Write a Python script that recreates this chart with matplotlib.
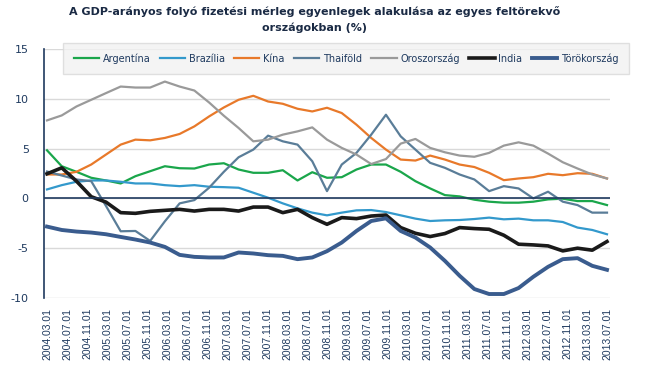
import numpy as np
import matplotlib
matplotlib.use('Agg')
import matplotlib.pyplot as plt

# quarterly data, 2004 Q1 .. 2013 Q3 (39 points)
tick_labels = ['2004.03.01', '2004.07.01', '2004.11.01', '2005.03.01', '2005.07.01', '2005.11.01',
               '2006.03.01', '2006.07.01', '2006.11.01', '2007.03.01', '2007.07.01', '2007.11.01',
               '2008.03.01', '2008.07.01', '2008.11.01', '2009.03.01', '2009.07.01', '2009.11.01',
               '2010.03.01', '2010.07.01', '2010.11.01', '2011.03.01', '2011.07.01', '2011.11.01',
               '2012.03.01', '2012.07.01', '2012.11.01', '2013.03.01', '2013.07.01']

argentina = [4.83, 3.23, 2.67, 2.07, 1.8, 1.5, 2.23, 2.73, 3.23, 3.03,
             3.0, 3.4, 3.53, 2.9, 2.57, 2.57, 2.83, 1.8, 2.63, 2.07,
             2.13, 2.9, 3.4, 3.4, 2.67, 1.73, 1.0, 0.33, 0.2, -0.13,
             -0.33, -0.43, -0.43, -0.33, -0.1, -0.03, -0.27, -0.27, -0.67]
brazilia = [0.9, 1.33, 1.67, 1.8, 1.8, 1.67, 1.5, 1.5, 1.33, 1.23,
            1.33, 1.17, 1.13, 1.07, 0.57, 0.07, -0.5, -1.0, -1.43, -1.7,
            -1.43, -1.2, -1.17, -1.37, -1.7, -2.03, -2.27, -2.2, -2.17, -2.07,
            -1.93, -2.1, -2.03, -2.2, -2.2, -2.37, -2.93, -3.17, -3.6]
kina = [2.4, 2.4, 2.67, 3.4, 4.4, 5.4, 5.9, 5.83, 6.07, 6.47,
        7.23, 8.23, 9.13, 9.9, 10.3, 9.73, 9.5, 9.0, 8.73, 9.1,
        8.57, 7.4, 6.07, 4.9, 3.9, 3.8, 4.3, 3.9, 3.4, 3.15,
        2.57, 1.83, 2.0, 2.13, 2.47, 2.33, 2.53, 2.47, 2.0]
thaifold = [2.7, 2.3, 1.9, 1.73, -0.75, -3.3, -3.27, -4.27, -2.3, -0.5,
            -0.17, 1.07, 2.67, 4.13, 4.9, 6.3, 5.73, 5.4, 3.73, 0.73,
            3.4, 4.57, 6.4, 8.4, 6.23, 4.9, 3.57, 3.07, 2.4, 1.9,
            0.73, 1.23, 1.0, 0.0, 0.67, -0.33, -0.67, -1.43, -1.43]
oroszorszag = [7.83, 8.33, 9.23, 9.9, 10.57, 11.23, 11.13, 11.13, 11.73, 11.23,
               10.83, 9.63, 8.3, 7.07, 5.73, 5.9, 6.4, 6.73, 7.13, 5.9,
               5.07, 4.4, 3.45, 3.95, 5.5, 5.97, 5.07, 4.63, 4.3, 4.18,
               4.57, 5.3, 5.63, 5.3, 4.5, 3.63, 3.0, 2.4, 2.0]
india = [2.47, 3.07, 1.73, 0.17, -0.37, -1.43, -1.5, -1.3, -1.2, -1.1,
         -1.27, -1.1, -1.1, -1.27, -0.87, -0.87, -1.43, -1.1, -1.93, -2.6,
         -1.93, -2.03, -1.77, -1.67, -2.93, -3.5, -3.83, -3.53, -2.93, -3.03,
         -3.1, -3.7, -4.6, -4.67, -4.77, -5.27, -5.0, -5.2, -4.33]
torokorszag = [-2.83, -3.17, -3.33, -3.43, -3.6, -3.87, -4.13, -4.43, -4.87, -5.67,
               -5.87, -5.93, -5.93, -5.43, -5.53, -5.7, -5.77, -6.1, -5.93, -5.3,
               -4.43, -3.27, -2.27, -2.0, -3.27, -3.93, -4.93, -6.27, -7.77, -9.1,
               -9.6, -9.6, -9.0, -7.87, -6.87, -6.1, -6.0, -6.77, -7.17]

series = [
    ('Argentína', argentina, '#1aa64b', 1.6),
    ('Brazília', brazilia, '#3399cc', 1.6),
    ('Kína', kina, '#e8792a', 1.6),
    ('Thaiföld', thaifold, '#5a7d98', 1.6),
    ('Oroszország', oroszorszag, '#9a9a9a', 1.6),
    ('India', india, '#1a1a1a', 2.6),
    ('Törökország', torokorszag, '#3a5c8e', 2.8),
]

navy = '#1f3a5f'
plt.rcParams['axes.unicode_minus'] = False

fig = plt.figure(figsize=(6.45, 3.71), dpi=100)
ax = fig.add_axes([44 / 645, 1 - 298 / 371, 566 / 645, 249 / 371])

# x in months since 2004.03; labels every 4 months
n = len(argentina)
x = np.linspace(0, 112, n)
ticks = np.arange(len(tick_labels)) * 4

for name, vals, color, lw in series:
    ax.plot(x, vals, color=color, lw=lw, label=name, solid_joinstyle='round')

ax.set_xlim(-0.6, 112.6)
ax.set_ylim(-10, 15)
ax.set_yticks([-10, -5, 0, 5, 10, 15])
ax.set_yticklabels(['-10', '-5', '0', '5', '10', '15'])
ax.grid(axis='y', color='#d9d9d9', lw=1)
ax.axhline(0, color=navy, lw=1.2)
ax.set_axisbelow(True)
for s in ['top', 'right', 'bottom']:
    ax.spines[s].set_visible(False)
ax.spines['left'].set_color(navy)
ax.spines['left'].set_linewidth(1.2)
ax.tick_params(axis='y', length=0, pad=11, labelsize=8, labelcolor=navy)
ax.set_xticks(ticks)
ax.set_xticklabels(tick_labels, rotation=90, fontsize=7.5, color=navy, family='Liberation Sans')
ax.tick_params(axis='x', length=0, pad=7)

leg = ax.legend(ncol=7, loc='center', bbox_to_anchor=(346 / 645, 1 - 58.5 / 371),
                bbox_transform=fig.transFigure, frameon=True, fancybox=False,
                handlelength=2.6, columnspacing=0.95, handletextpad=0.4,
                prop={'size': 7}, borderpad=1.1, borderaxespad=0)
leg.get_frame().set_facecolor('#f2f2f2')
leg.get_frame().set_edgecolor('#d9d9d9')
for t in leg.get_texts():
    t.set_color(navy)

fig.text(315 / 645, 1 - 12 / 371,
         'A GDP-arányos folyó fizetési mérleg egyenlegek alakulása az egyes feltörekvő',
         ha='center', va='center', fontsize=8, weight='bold', color='#1a2a44')
fig.text(315 / 645, 1 - 28 / 371, 'országokban (%)',
         ha='center', va='center', fontsize=8, weight='bold', color='#1a2a44')

fig.savefig('out.png', dpi=100)
